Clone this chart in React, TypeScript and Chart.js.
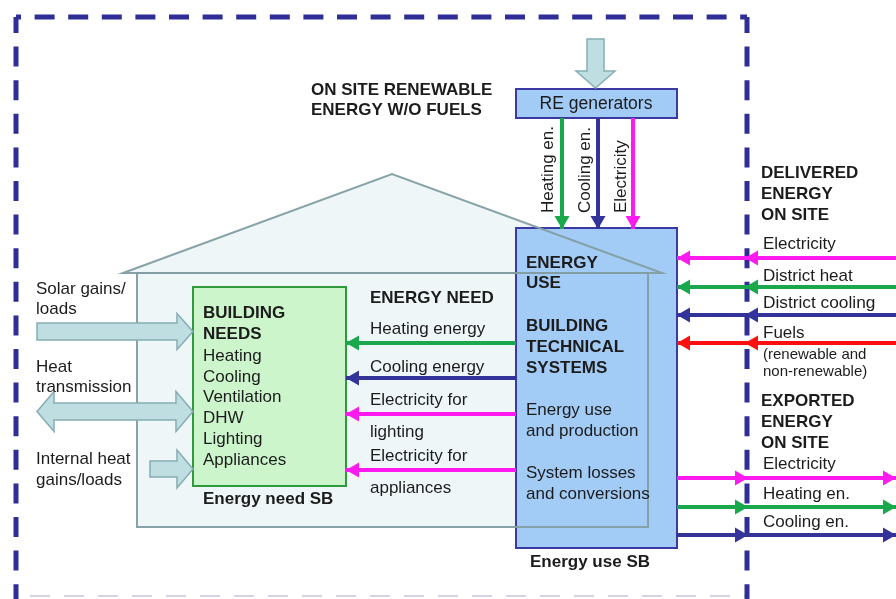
import React, { useEffect, useRef } from "react";
import { Chart, registerables } from "chart.js";

Chart.register(...registerables);

// ---------- diagram data (diagram units = pixels of the 896x599 reference) ----------
const COLORS: Record<string, string> = {
  green: "#19a84c",
  blue: "#33339a",
  magenta: "#ff1af0",
  red: "#ff1010",
};

// energy flows: [fromX, fromY, toX, toY, colour, midArrowX|null]
const RE_FLOWS: [number, number, number, number, string, number | null][] = [
  [562, 118, 562, 229, "green", null],
  [598, 118, 598, 229, "blue", null],
  [633, 118, 633, 229, "magenta", null],
];
const NEED_FLOWS: [number, number, number, number, string, number | null][] = [
  [516, 343, 346, 343, "green", null],
  [516, 378, 346, 378, "blue", null],
  [516, 414, 346, 414, "magenta", null],
  [516, 470, 346, 470, "magenta", null],
];
const DELIVERED_FLOWS: [number, number, number, number, string, number | null][] = [
  [896, 258, 677, 258, "magenta", 745],
  [896, 287, 677, 287, "green", 745],
  [896, 315, 677, 315, "blue", 745],
  [896, 343, 677, 343, "red", 745],
];
const EXPORTED_FLOWS: [number, number, number, number, string, number | null][] = [
  [677, 478, 896, 478, "magenta", 748],
  [677, 507, 896, 507, "green", 748],
  [677, 535, 896, 535, "blue", 748],
];

// boundary (dashed) sides: [x0, y0, x1, y1, dashOffset]
const BOUNDARY: [number, number, number, number, number][] = [
  [16, 17, 747, 17, 15],
  [16, 17, 16, 599, 4],
  [747, 17, 747, 599, 4],
];

// boxes: [x0, y0, x1, y1, kind]
const BOXES: [number, number, number, number, string][] = [
  [516, 228, 677, 548, "use"],
  [193, 287, 346, 486, "need"],
  [516, 89, 677, 118, "use"],
];

// house: roof peak, eaves, body
const ROOF: [number, number][] = [
  [123, 273],
  [392, 174],
  [662, 273],
];
const HOUSE_BODY: [number, number, number, number] = [137, 273, 648, 527];

// big hollow arrows: [orientation, start, tip, centre, shaftHalf, headHalf, headLen, double]
const BIG_ARROWS: [string, number, number, number, number, number, number, boolean][] = [
  ["h", 37, 193, 331.5, 8.5, 18, 16, false],
  ["h", 37, 193, 411.5, 8.5, 20, 17, true],
  ["h", 150, 193, 469, 8, 19, 16, false],
  ["v", 39, 88, 595.5, 8.5, 19.5, 17, false],
];

// text labels: [text, x, y, size, bold, align]
const LABELS: [string, number, number, number, boolean, string][] = [
  ["ON SITE RENEWABLE", 311, 90, 17, true, "left"],
  ["ENERGY W/O FUELS", 311, 110, 17, true, "left"],
  ["RE generators", 596, 104, 17.5, false, "center"],
  ["DELIVERED", 761, 173, 17, true, "left"],
  ["ENERGY", 761, 194, 17, true, "left"],
  ["ON SITE", 761, 215, 17, true, "left"],
  ["Electricity", 763, 244, 17, false, "left"],
  ["District heat", 763, 276, 17, false, "left"],
  ["District cooling", 763, 303, 17.3, false, "left"],
  ["Fuels", 763, 333, 17, false, "left"],
  ["(renewable and", 763, 355, 15, false, "left"],
  ["non-renewable)", 763, 372, 15, false, "left"],
  ["EXPORTED", 761, 401, 17, true, "left"],
  ["ENERGY", 761, 422, 17, true, "left"],
  ["ON SITE", 761, 443, 17, true, "left"],
  ["Electricity", 763, 464, 17, false, "left"],
  ["Heating en.", 763, 494, 17, false, "left"],
  ["Cooling en.", 763, 522, 17, false, "left"],
  ["ENERGY", 526, 263, 17, true, "left"],
  ["USE", 526, 283, 17, true, "left"],
  ["BUILDING", 526, 326, 17, true, "left"],
  ["TECHNICAL", 526, 347, 17, true, "left"],
  ["SYSTEMS", 526, 368, 17, true, "left"],
  ["Energy use", 526, 410, 17, false, "left"],
  ["and production", 526, 431, 17, false, "left"],
  ["System losses", 526, 473, 17, false, "left"],
  ["and conversions", 526, 494, 17, false, "left"],
  ["Energy use SB", 590, 562, 17, true, "center"],
  ["ENERGY NEED", 370, 298, 17, true, "left"],
  ["Heating energy", 370, 329, 17, false, "left"],
  ["Cooling energy", 370, 367, 17, false, "left"],
  ["Electricity for", 370, 400, 17, false, "left"],
  ["lighting", 370, 432, 17, false, "left"],
  ["Electricity for", 370, 456, 17, false, "left"],
  ["appliances", 370, 488, 17, false, "left"],
  ["BUILDING", 203, 313, 17, true, "left"],
  ["NEEDS", 203, 334, 17, true, "left"],
  ["Heating", 203, 356, 17, false, "left"],
  ["Cooling", 203, 377, 17, false, "left"],
  ["Ventilation", 203, 397, 17, false, "left"],
  ["DHW", 203, 418, 17, false, "left"],
  ["Lighting", 203, 439, 17, false, "left"],
  ["Appliances", 203, 460, 17, false, "left"],
  ["Energy need SB", 203, 499, 17, true, "left"],
  ["Solar gains/", 36, 289, 17, false, "left"],
  ["loads", 36, 309, 17, false, "left"],
  ["Heat", 36, 367, 17, false, "left"],
  ["transmission", 36, 387, 17, false, "left"],
  ["Internal heat", 36, 459, 17, false, "left"],
  ["gains/loads", 36, 480, 17, false, "left"],
];

// rotated labels: [text, centreX, bottomY]
const VERTICAL_LABELS: [string, number, number][] = [
  ["Heating en.", 548, 213],
  ["Cooling en.", 585, 213],
  ["Electricity", 621, 213],
];

const FONT = "'Liberation Sans', Arial, Helvetica, sans-serif";
const ALL_FLOWS = [...RE_FLOWS, ...NEED_FLOWS, ...DELIVERED_FLOWS, ...EXPORTED_FLOWS];

const diagramPlugin = {
  id: "diagram",
  beforeDatasetsDraw(chart: any) {
    const ctx: CanvasRenderingContext2D = chart.ctx;
    const xs = chart.scales.x;
    const ys = chart.scales.y;
    const X = (v: number) => xs.getPixelForValue(v);
    const Y = (v: number) => ys.getPixelForValue(v);
    ctx.save();
    ctx.fillStyle = "#ffffff";
    ctx.fillRect(0, 0, chart.width, chart.height);

    // faint bottom boundary
    ctx.strokeStyle = "rgba(160,160,200,0.45)";
    ctx.lineWidth = 2;
    ctx.setLineDash([20, 14]);
    ctx.beginPath();
    ctx.moveTo(X(30), Y(596));
    ctx.lineTo(X(745), Y(596));
    ctx.stroke();
    ctx.setLineDash([]);

    // house fill
    const [hx0, hy0, hx1, hy1] = HOUSE_BODY;
    ctx.fillStyle = "#eef6f8";
    ctx.beginPath();
    ctx.moveTo(X(ROOF[0][0]), Y(ROOF[0][1]));
    ctx.lineTo(X(ROOF[1][0]), Y(ROOF[1][1]));
    ctx.lineTo(X(ROOF[2][0]), Y(ROOF[2][1]));
    ctx.closePath();
    ctx.fill();
    ctx.fillRect(X(hx0), Y(hy0), X(hx1) - X(hx0), Y(hy1) - Y(hy0));

    // boxes
    for (const [x0, y0, x1, y1, kind] of BOXES) {
      ctx.fillStyle = kind === "use" ? "#a2cbf6" : "#ccf5cc";
      ctx.strokeStyle = kind === "use" ? "#3a3aa2" : "#2f9a3c";
      ctx.lineWidth = 2;
      ctx.fillRect(X(x0), Y(y0), X(x1) - X(x0), Y(y1) - Y(y0));
      ctx.strokeRect(X(x0), Y(y0), X(x1) - X(x0), Y(y1) - Y(y0));
    }

    // house outline on top
    ctx.strokeStyle = "rgba(130,158,162,0.95)";
    ctx.lineWidth = 2;
    ctx.beginPath();
    ctx.moveTo(X(ROOF[0][0]), Y(ROOF[0][1]));
    ctx.lineTo(X(ROOF[1][0]), Y(ROOF[1][1]));
    ctx.lineTo(X(ROOF[2][0]), Y(ROOF[2][1]));
    ctx.closePath();
    ctx.stroke();
    ctx.strokeRect(X(hx0), Y(hy0), X(hx1) - X(hx0), Y(hy1) - Y(hy0));

    // big hollow arrows
    for (const [o, s, t, c, sh, hh, hl, dbl] of BIG_ARROWS) {
      const pts: [number, number][] = [];
      const base = t - hl;
      if (dbl) {
        const lb = s + hl;
        pts.push([s, c], [lb, c - hh], [lb, c - sh], [base, c - sh], [base, c - hh], [t, c],
          [base, c + hh], [base, c + sh], [lb, c + sh], [lb, c + hh]);
      } else {
        pts.push([s, c - sh], [base, c - sh], [base, c - hh], [t, c], [base, c + hh], [base, c + sh], [s, c + sh]);
      }
      ctx.beginPath();
      pts.forEach(([a, b], i) => {
        const px = o === "h" ? X(a) : X(b);
        const py = o === "h" ? Y(b) : Y(a);
        if (i === 0) ctx.moveTo(px, py);
        else ctx.lineTo(px, py);
      });
      ctx.closePath();
      ctx.fillStyle = "#bedee2";
      ctx.fill();
      ctx.strokeStyle = "#86adb2";
      ctx.lineWidth = 1.5;
      ctx.stroke();
    }
    ctx.restore();
  },
  afterDatasetsDraw(chart: any) {
    const ctx: CanvasRenderingContext2D = chart.ctx;
    const xs = chart.scales.x;
    const ys = chart.scales.y;
    const X = (v: number) => xs.getPixelForValue(v);
    const Y = (v: number) => ys.getPixelForValue(v);
    ctx.save();
    const head = (tx: number, ty: number, dx: number, dy: number, color: string) => {
      const len = 13;
      const half = 7.5;
      const px = -dy;
      const py = dx;
      ctx.fillStyle = color;
      ctx.beginPath();
      ctx.moveTo(tx, ty);
      ctx.lineTo(tx - dx * len + px * half, ty - dy * len + py * half);
      ctx.lineTo(tx - dx * len - px * half, ty - dy * len - py * half);
      ctx.closePath();
      ctx.fill();
    };
    for (const [x0, y0, x1, y1, col, mid] of ALL_FLOWS) {
      const ax = X(x0), ay = Y(y0), bx = X(x1), by = Y(y1);
      const L = Math.hypot(bx - ax, by - ay);
      const dx = (bx - ax) / L, dy = (by - ay) / L;
      head(bx, by, dx, dy, COLORS[col]);
      if (mid !== null) head(X(mid), by, dx, dy, COLORS[col]);
    }

    ctx.fillStyle = "#1c1c1c";
    ctx.textBaseline = "middle";
    for (const [text, x, y, size, bold, align] of LABELS) {
      ctx.font = `${bold ? "bold " : ""}${size}px ${FONT}`;
      ctx.textAlign = align as CanvasTextAlign;
      ctx.fillText(text, X(x), Y(y));
    }
    for (const [text, x, y] of VERTICAL_LABELS) {
      ctx.save();
      ctx.translate(X(x), Y(y));
      ctx.rotate(-Math.PI / 2);
      ctx.font = `17px ${FONT}`;
      ctx.textAlign = "left";
      ctx.fillText(text, 0, 0);
      ctx.restore();
    }
    ctx.restore();
  },
};

export default function App() {
  const ref = useRef<HTMLCanvasElement | null>(null);
  useEffect(() => {
    if (!ref.current) return;
    const flowSets = ALL_FLOWS.map(([x0, y0, x1, y1, col]) => ({
      data: [
        { x: x0, y: y0 },
        { x: x1, y: y1 },
      ],
      borderColor: COLORS[col],
      borderWidth: 4,
      pointRadius: 0,
      fill: false,
      showLine: true,
    }));
    const boundarySets = BOUNDARY.map(([x0, y0, x1, y1, off]) => ({
      data: [
        { x: x0, y: y0 },
        { x: x1, y: y1 },
      ],
      borderColor: "#2e2e96",
      borderWidth: 5,
      borderDash: [20, 13.6],
      borderDashOffset: off,
      pointRadius: 0,
      fill: false,
      showLine: true,
    }));
    const chart = new Chart(ref.current, {
      type: "scatter",
      data: { datasets: [...flowSets, ...boundarySets] as any },
      options: {
        animation: false,
        responsive: false,
        maintainAspectRatio: false,
        layout: { padding: 0 },
        plugins: { legend: { display: false }, tooltip: { enabled: false } },
        events: [],
        scales: {
          x: { type: "linear", min: 0, max: 896, display: false },
          y: { type: "linear", min: 0, max: 599, reverse: true, display: false },
        },
      },
      plugins: [diagramPlugin],
    });
    return () => chart.destroy();
  }, []);
  return (
    <div style={{ position: "fixed", left: 0, top: 0, width: 896, height: 599 }}>
      <canvas ref={ref} width={896} height={599} />
    </div>
  );
}
